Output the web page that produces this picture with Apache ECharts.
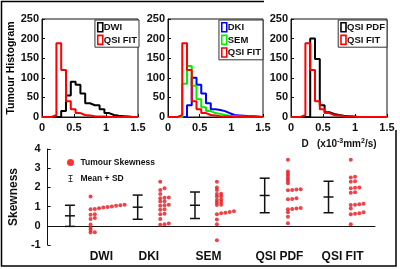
<!DOCTYPE html>
<html>
<head>
<meta charset="utf-8">
<script src="https://cdn.jsdelivr.net/npm/echarts@6/dist/echarts.min.js"></script>
<style>
  html, body { margin: 0; padding: 0; background: #fff; }
  #chart { width: 400px; height: 269px; }
</style>
</head>
<body>
<div id="chart"></div>
<script>
// histogram bins (x1e-3 mm2/s)
const binEdges = [0, 0.075, 0.15, 0.225, 0.3, 0.375, 0.45, 0.525, 0.6, 0.675, 0.75,
  0.825, 0.9, 0.975, 1.05, 1.125, 1.2, 1.275, 1.35, 1.425, 1.5];
const dwiCounts = [0, 0, 0, 0, 15, 55, 90, 82, 60, 35, 30, 30, 20, 10, 5, 3, 2, 1, 0, 0];
const dkiCounts = [0, 0, 0, 0, 30, 100, 82, 60, 35, 20, 18, 15, 10, 5, 4, 3, 2, 2, 1, 0];
const semCounts = [0, 0, 0, 85, 130, 80, 45, 25, 15, 10, 8, 5, 3, 2, 1, 1, 0, 0, 0, 0];
const qsiPdfCounts = [0, 0, 0, 0, 200, 148, 30, 12, 8, 5, 3, 2, 1, 0, 0, 0, 0, 0, 0, 0];
const qsiFitCounts = [0, 0, 5, 188, 120, 40, 20, 10, 5, 4, 2, 1, 1, 0, 0, 0, 0, 0, 0, 0];

// skewness panel
const methods = ["DWI", "DKI", "SEM", "QSI PDF", "QSI FIT"];
const labelX = [1.64, 3.09, 4.91, 7.08, 9.01];
const barX = [0.68, 2.75, 4.5, 6.63, 8.58];
const dotX = [1.31, 3.44, 5.17, 7.34, 9.26];
const skewMean = [0.52, 0.97, 1.07, 1.58, 1.5];
const skewSD = [0.55, 0.63, 0.69, 0.9, 0.82];
const skewDWI = [-0.35, -0.33, -0.22, -0.1, 0.07, 0.36, 0.4, 0.57, 0.6, 0.86, 0.88,
  0.92, 0.95, 0.98, 1.01, 1.04, 1.07, 1.09, 1.52];
const skewDKI = [0.05, 0.08, 0.12, 0.36, 0.6, 0.63, 0.83, 0.86, 1.05, 1.07, 1.09,
  1.26, 1.28, 1.44, 1.46, 1.48, 1.65, 1.87, 1.96, 2.3];
const skewSEM = [-0.75, 0.08, 0.33, 0.6, 0.65, 0.68, 0.72, 0.76, 1.08, 1.1, 1.21, 1.24,
  1.35, 1.37, 1.52, 1.54, 1.65, 1.67, 1.87, 2.0, 2.3];
const skewQsiPdf = [0.13, 0.47, 0.7, 0.86, 0.88, 0.9, 0.93, 1.38, 1.4, 1.43, 1.85, 1.87,
  1.89, 1.91, 2.22, 2.34, 2.46, 2.59, 2.71, 2.83, 3.44];
const skewQsiFit = [0.08, 0.6, 0.63, 0.66, 0.7, 0.9, 1.08, 1.1, 1.12, 1.15, 1.72, 1.75,
  1.96, 1.98, 2.0, 2.3, 2.32, 2.52, 2.55, 3.44];
const skewAll = [skewDWI, skewDKI, skewSEM, skewQsiPdf, skewQsiFit];

const FONT = "Liberation Sans";
const INK = "#111";

// step outline of a histogram
function histLine(counts) {
  const pts = [[binEdges[0], 0]];
  counts.forEach((c, i) => pts.push([binEdges[i], c]));
  pts.push([binEdges[binEdges.length - 1], 0]);
  return pts;
}

// values that sit closer than gap spread out to the right
function spread(vals, x0) {
  const sorted = vals.slice().sort((a, b) => a - b);
  const out = [];
  let slot = 0;
  sorted.forEach((v, i) => {
    slot = i > 0 && v - sorted[i - 1] < 0.1 ? slot + 1 : 0;
    out.push([x0 + slot * 0.13, v]);
  });
  return out;
}

const histGrids = [
  { left: 42, top: 19, width: 96, height: 98 },
  { left: 168, top: 19, width: 95, height: 98 },
  { left: 291, top: 19, width: 96, height: 98 },
];

const axisText = { fontFamily: FONT, fontWeight: "bold", fontSize: 11, color: INK };

const xAxes = histGrids.map((g, i) => ({
  gridIndex: i,
  type: "value",
  min: 0,
  max: 1.5,
  interval: 0.5,
  splitLine: { show: false },
  axisLine: { lineStyle: { color: INK } },
  axisTick: { inside: true, length: 3, lineStyle: { color: INK } },
  axisLabel: Object.assign({ margin: 5 }, axisText),
}));
xAxes[2].name = "D   (x10{sup|-3}mm{sup|2}/s)";
xAxes[2].nameLocation = "middle";
xAxes[2].nameGap = 21;
xAxes[2].nameTextStyle = {
  fontFamily: FONT, fontWeight: "bold", fontSize: 10, color: INK,
  rich: { sup: { fontFamily: FONT, fontWeight: "bold", fontSize: 7, color: INK, verticalAlign: "top", padding: [0, 0, 5, 0] } },
};

const yAxes = histGrids.map((g, i) => ({
  gridIndex: i,
  type: "value",
  min: 0,
  max: 250,
  interval: 50,
  splitLine: { show: false },
  axisLine: { lineStyle: { color: INK } },
  axisTick: { inside: true, length: 3, lineStyle: { color: INK } },
  axisLabel: Object.assign({ margin: 3 }, axisText),
}));
yAxes[0].name = "Tumour Histogram";
yAxes[0].nameLocation = "middle";
yAxes[0].nameGap = 25;
yAxes[0].nameTextStyle = { fontFamily: FONT, fontWeight: "bold", fontSize: 10.5, color: "#000" };

// skewness axes
xAxes.push({
  gridIndex: 3,
  type: "value",
  min: 0,
  max: 10,
  splitLine: { show: false },
  axisLine: { lineStyle: { color: INK } },
  axisTick: { show: false },
  axisLabel: Object.assign({}, axisText, {
    fontSize: 12,
    margin: 6,
    customValues: labelX,
    formatter: (v) => methods[labelX.indexOf(v)] || "",
  }),
});
yAxes.push({
  gridIndex: 3,
  type: "value",
  min: -1,
  max: 4,
  interval: 1,
  splitLine: { show: false },
  axisLine: { lineStyle: { color: INK } },
  axisTick: { inside: true, length: 3, lineStyle: { color: INK } },
  axisLabel: Object.assign({ margin: 7 }, axisText),
  name: "Skewness",
  nameLocation: "middle",
  nameGap: 15,
  nameTextStyle: { fontFamily: FONT, fontWeight: "bold", fontSize: 12, color: INK },
});

function histSeries(name, counts, color, idx) {
  return {
    name: name,
    type: "line",
    xAxisIndex: idx,
    yAxisIndex: idx,
    step: "end",
    showSymbol: false,
    silent: true,
    data: histLine(counts),
    lineStyle: { color: color, width: 2 },
    itemStyle: { color: color },
  };
}

const RED = "#ff0000";
const BLUE = "#0000ff";
const GREEN = "#00ee00";
const BLACK = "#000";

function legendFor(names, colors, right, top) {
  return {
    orient: "vertical",
    right: right,
    top: top,
    padding: [2, 2, 2, 2],
    itemGap: 2,
    itemWidth: 5,
    itemHeight: 9,
    backgroundColor: "#fff",
    borderColor: "#333",
    borderWidth: 1,
    borderRadius: 0,
    selectedMode: false,
    textStyle: { fontFamily: FONT, fontWeight: "bold", fontSize: 9.5, color: INK, padding: [0, 0, 0, -4] },
    data: names.map((n, i) => ({
      name: n,
      icon: "rect",
      itemStyle: { color: "#fff", borderColor: colors[i], borderWidth: 1.6 },
    })),
  };
}

const errData = barX.map((x, i) => [x, skewMean[i], skewSD[i]]);
const dotData = [];
skewAll.forEach((vals, i) => spread(vals, dotX[i]).forEach((p) => dotData.push(p)));

const chart = echarts.init(document.getElementById("chart"), null, { renderer: "canvas" });

chart.setOption({
  animation: false,
  backgroundColor: "#fff",
  grid: histGrids.map((g) => Object.assign({ show: true, borderColor: INK, borderWidth: 1 }, g))
    .concat([{ left: 42, top: 149, width: 333, height: 96 }]),
  xAxis: xAxes,
  yAxis: yAxes,
  legend: [
    legendFor(["DWI", "QSI FIT"], [BLACK, RED], 261, 20),
    legendFor(["DKI", "SEM", "QSI FIT"], [BLUE, GREEN, RED], 137, 20),
    legendFor(["QSI PDF", "QSI FIT"], [BLACK, RED], 13, 20),
    {
      orient: "vertical",
      left: 62,
      top: 153,
      itemGap: 7,
      itemWidth: 10,
      itemHeight: 7,
      selectedMode: false,
      textStyle: { fontFamily: FONT, fontWeight: "bold", fontSize: 8.5, color: INK },
      data: [
        { name: "Tumour Skewness", icon: "circle", itemStyle: { color: RED } },
        { name: "Mean + SD", icon: "path://M0,0H6V1H0ZM2.5,0H3.5V10H2.5ZM0,9H6V10H0ZM1,4.5H5V5.5H1Z", itemStyle: { color: INK } },
      ],
    },
  ],
  graphic: [
    {
      type: "polyline",
      silent: true,
      shape: { points: [[264, 1.5], [1.5, 1.5], [1.5, 266], [396, 266], [396, 130]] },
      style: { stroke: "#000", lineWidth: 1.5, fill: null },
    },
  ],
  series: [
    histSeries("DWI", dwiCounts, BLACK, 0),
    histSeries("QSI FIT", qsiFitCounts, RED, 0),
    histSeries("DKI", dkiCounts, BLUE, 1),
    histSeries("SEM", semCounts, GREEN, 1),
    histSeries("QSI FIT", qsiFitCounts, RED, 1),
    histSeries("QSI PDF", qsiPdfCounts, BLACK, 2),
    histSeries("QSI FIT", qsiFitCounts, RED, 2),
    {
      name: "Mean + SD",
      type: "custom",
      xAxisIndex: 3,
      yAxisIndex: 3,
      silent: true,
      itemStyle: { color: INK },
      data: errData,
      renderItem: function (params, api) {
        const x = api.value(0);
        const m = api.value(1);
        const s = api.value(2);
        const top = api.coord([x, m + s]);
        const mid = api.coord([x, m]);
        const bot = api.coord([x, m - s]);
        const hw = 5;
        const st = { stroke: INK, lineWidth: 1.5 };
        const seg = (y) => ({ type: "line", shape: { x1: top[0] - hw, y1: y, x2: top[0] + hw, y2: y }, style: st });
        return {
          type: "group",
          children: [
            { type: "line", shape: { x1: top[0], y1: top[1], x2: bot[0], y2: bot[1] }, style: st },
            seg(top[1]), seg(mid[1]), seg(bot[1]),
          ],
        };
      },
    },
    {
      name: "Tumour Skewness",
      type: "scatter",
      xAxisIndex: 3,
      yAxisIndex: 3,
      silent: true,
      symbolSize: 4,
      itemStyle: { color: "#e8141c" },
      data: dotData,
    },
  ],
});
</script>
</body>
</html>
